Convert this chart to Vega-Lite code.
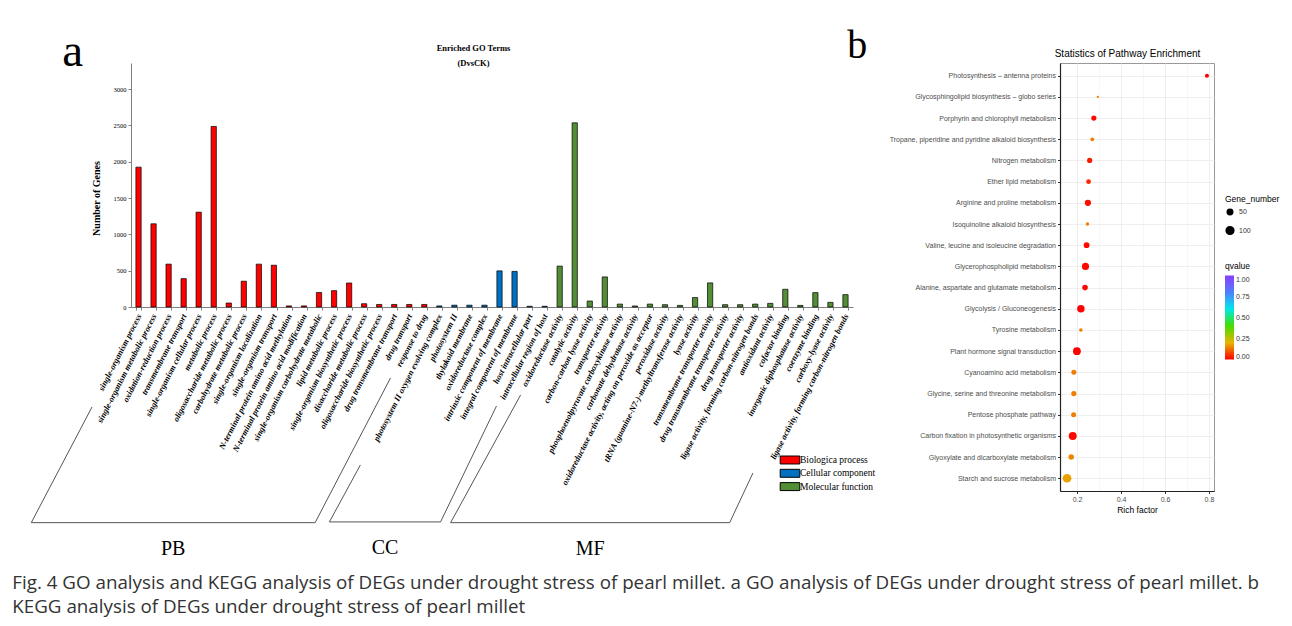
{
  "$schema": "https://vega.github.io/schema/vega-lite/v6.json",
  "padding": {"left": 12, "top": 25, "right": 6, "bottom": 6},
  "background": "white",
  "config": {"view": {"stroke": null}},
  "title": {
    "text": ["Fig. 4 GO analysis and KEGG analysis of DEGs under drought stress of pearl millet. a GO analysis of DEGs under drought stress of pearl millet. b", "KEGG analysis of DEGs under drought stress of pearl millet"],
    "orient": "bottom", "anchor": "start", "frame": "bounds",
    "font": "Open Sans", "fontSize": 18.8, "fontWeight": "normal", "color": "#333333",
    "lineHeight": 24, "offset": 15, "dx": -17
  },
  "datasets": {
    "go": [
      {"term": "single-organism process", "ontology": "Biologica process", "genes": 1925},
      {"term": "single-organism metabolic process", "ontology": "Biologica process", "genes": 1145},
      {"term": "oxidation-reduction process", "ontology": "Biologica process", "genes": 590},
      {"term": "transmembrane transport", "ontology": "Biologica process", "genes": 390},
      {"term": "single-organism cellular process", "ontology": "Biologica process", "genes": 1305},
      {"term": "metabolic process", "ontology": "Biologica process", "genes": 2485},
      {"term": "oligosaccharide metabolic process", "ontology": "Biologica process", "genes": 55},
      {"term": "carbohydrate metabolic process", "ontology": "Biologica process", "genes": 355},
      {"term": "single-organism localization", "ontology": "Biologica process", "genes": 590},
      {"term": "single-organism transport", "ontology": "Biologica process", "genes": 575},
      {"term": "N-terminal protein amino acid methylation", "ontology": "Biologica process", "genes": 15},
      {"term": "N-terminal protein amino acid modification", "ontology": "Biologica process", "genes": 15},
      {"term": "single-organism carbohydrate metabolic", "ontology": "Biologica process", "genes": 200},
      {"term": "lipid metabolic process", "ontology": "Biologica process", "genes": 225},
      {"term": "single-organism biosynthetic process", "ontology": "Biologica process", "genes": 330},
      {"term": "disaccharide metabolic process", "ontology": "Biologica process", "genes": 45},
      {"term": "oligosaccharide biosynthetic process", "ontology": "Biologica process", "genes": 35},
      {"term": "drug transmembrane transport", "ontology": "Biologica process", "genes": 35},
      {"term": "drug transport", "ontology": "Biologica process", "genes": 35},
      {"term": "response to drug", "ontology": "Biologica process", "genes": 35},
      {"term": "photosystem II oxygen evolving complex", "ontology": "Cellular component", "genes": 15},
      {"term": "photosystem II", "ontology": "Cellular component", "genes": 25},
      {"term": "thylakoid membrane", "ontology": "Cellular component", "genes": 25},
      {"term": "oxidoreductase complex", "ontology": "Cellular component", "genes": 25},
      {"term": "intrinsic component of membrane", "ontology": "Cellular component", "genes": 497},
      {"term": "integral component of membrane", "ontology": "Cellular component", "genes": 490},
      {"term": "host intracellular part", "ontology": "Cellular component", "genes": 10},
      {"term": "intracellular region of host", "ontology": "Cellular component", "genes": 10},
      {"term": "oxidoreductase activity", "ontology": "Molecular function", "genes": 563},
      {"term": "catalytic activity", "ontology": "Molecular function", "genes": 2535},
      {"term": "carbon-carbon lyase activity", "ontology": "Molecular function", "genes": 82},
      {"term": "transporter activity", "ontology": "Molecular function", "genes": 414},
      {"term": "phosphoenolpyruvate carboxykinase activity", "ontology": "Molecular function", "genes": 40},
      {"term": "carbonate dehydratase activity", "ontology": "Molecular function", "genes": 14},
      {"term": "oxidoreductase activity, acting on peroxide as acceptor", "ontology": "Molecular function", "genes": 40},
      {"term": "peroxidase activity", "ontology": "Molecular function", "genes": 32},
      {"term": "tRNA (guanine-N7-)-methyltransferase activity", "ontology": "Molecular function", "genes": 22},
      {"term": "lyase activity", "ontology": "Molecular function", "genes": 130},
      {"term": "transmembrane transporter activity", "ontology": "Molecular function", "genes": 332},
      {"term": "drug transmembrane transporter activity", "ontology": "Molecular function", "genes": 32},
      {"term": "drug transporter activity", "ontology": "Molecular function", "genes": 32},
      {"term": "ligase activity, forming carbon-nitrogen bonds", "ontology": "Molecular function", "genes": 40},
      {"term": "antioxidant activity", "ontology": "Molecular function", "genes": 50},
      {"term": "cofactor binding", "ontology": "Molecular function", "genes": 244},
      {"term": "inorganic diphosphatase activity", "ontology": "Molecular function", "genes": 22},
      {"term": "coenzyme binding", "ontology": "Molecular function", "genes": 198},
      {"term": "carboxy-lyase activity", "ontology": "Molecular function", "genes": 64},
      {"term": "ligase activity, forming carbon-nitrogen bonds ", "ontology": "Molecular function", "genes": 170}
    ],
    "brackets": [
      {"group": "PB", "step": 1, "edge": "side", "bx": -3.09, "by": -1376},
      {"group": "PB", "step": 2, "edge": "bottom", "bx": -7.13, "by": -2968},
      {"group": "PB", "step": 3, "edge": "bottom", "bx": 11.74, "by": -2968},
      {"group": "PB", "step": 4, "edge": "side", "bx": 16.75, "by": -977},
      {"group": "CC", "step": 1, "edge": "side", "bx": 14.75, "by": -2174},
      {"group": "CC", "step": 2, "edge": "bottom", "bx": 12.69, "by": -2958},
      {"group": "CC", "step": 3, "edge": "bottom", "bx": 20.08, "by": -2958},
      {"group": "CC", "step": 4, "edge": "side", "bx": 23.8, "by": -1362},
      {"group": "MF", "step": 1, "edge": "side", "bx": 25.4, "by": -1211},
      {"group": "MF", "step": 2, "edge": "bottom", "bx": 20.75, "by": -2968},
      {"group": "MF", "step": 3, "edge": "bottom", "bx": 39.3, "by": -2968},
      {"group": "MF", "step": 4, "edge": "side", "bx": 40.85, "by": -2284}
    ],
    "kegg": [
      {"pathway": "Photosynthesis – antenna proteins", "rich": 0.791, "genes": 28, "q": 0.0},
      {"pathway": "Glycosphingolipid biosynthesis – globo series", "rich": 0.294, "genes": 8, "q": 0.14},
      {"pathway": "Porphyrin and chlorophyll metabolism", "rich": 0.276, "genes": 45, "q": 0.01},
      {"pathway": "Tropane, piperidine and pyridine alkaloid biosynthesis", "rich": 0.269, "genes": 24, "q": 0.14},
      {"pathway": "Nitrogen metabolism", "rich": 0.257, "genes": 45, "q": 0.03},
      {"pathway": "Ether lipid metabolism", "rich": 0.252, "genes": 38, "q": 0.045},
      {"pathway": "Arginine and proline metabolism", "rich": 0.249, "genes": 65, "q": 0.015},
      {"pathway": "Isoquinoline alkaloid biosynthesis", "rich": 0.247, "genes": 20, "q": 0.14},
      {"pathway": "Valine, leucine and isoleucine degradation", "rich": 0.243, "genes": 55, "q": 0.01},
      {"pathway": "Glycerophospholipid metabolism", "rich": 0.238, "genes": 85, "q": 0.01},
      {"pathway": "Alanine, aspartate and glutamate metabolism", "rich": 0.236, "genes": 52, "q": 0.01},
      {"pathway": "Glycolysis / Gluconeogenesis", "rich": 0.217, "genes": 92, "q": 0.0},
      {"pathway": "Tyrosine metabolism", "rich": 0.217, "genes": 20, "q": 0.14},
      {"pathway": "Plant hormone signal transduction", "rich": 0.199, "genes": 102, "q": 0.0},
      {"pathway": "Cyanoamino acid metabolism", "rich": 0.185, "genes": 42, "q": 0.14},
      {"pathway": "Glycine, serine and threonine metabolism", "rich": 0.185, "genes": 45, "q": 0.14},
      {"pathway": "Pentose phosphate pathway", "rich": 0.184, "genes": 42, "q": 0.14},
      {"pathway": "Carbon fixation in photosynthetic organisms", "rich": 0.18, "genes": 105, "q": 0.01},
      {"pathway": "Glyoxylate and dicarboxylate metabolism", "rich": 0.173, "genes": 50, "q": 0.15},
      {"pathway": "Starch and sucrose metabolism", "rich": 0.154, "genes": 125, "q": 0.18}
    ]
  },
  "spacing": -30,
  "center": false,
  "resolve": {"scale": {"color": "independent", "fill": "independent", "size": "independent", "x": "independent", "y": "independent"}, "legend": {"color": "independent", "fill": "independent", "size": "independent"}},
  "hconcat": [
    {
      "title": {"text": "a", "anchor": "start", "frame": "bounds", "font": "Liberation Serif", "fontSize": 47, "fontWeight": "normal", "color": "black", "dx": 33, "offset": -33},
      "width": 722,
      "height": 244,
      "resolve": {"scale": {"x": "independent"}},
      "layer": [
        {
          "data": {"name": "go"},
          "mark": {"type": "bar", "stroke": "black", "strokeWidth": 0.7},
          "encoding": {
            "x": {"field": "term", "type": "nominal", "sort": null,
              "scale": {"type": "band", "paddingInner": 0.65, "paddingOuter": 0.325},
              "axis": {"title": null, "labelAngle": -63, "labelFont": "Liberation Serif", "labelFontSize": 8.5, "labelFontStyle": "italic", "labelFontWeight": "bold", "labelColor": "black", "labelPadding": 4, "labelLimit": 400, "labelOverlap": false, "tickBand": "extent", "tickSize": 3, "tickColor": "#808080", "domainColor": "#808080"}},
            "y": {"field": "genes", "type": "quantitative", "title": "Number of Genes", "scale": {"domain": [0, 3358], "nice": false},
              "axis": {"title": "Number of Genes", "titleFont": "Liberation Serif", "titleFontSize": 10, "titleFontWeight": "bold", "titleColor": "black", "titlePadding": 12, "titleY": 135, "values": [0, 500, 1000, 1500, 2000, 2500, 3000], "format": "d", "labelFont": "Liberation Serif", "labelFontSize": 6.5, "labelColor": "black", "tickSize": 3, "tickColor": "#808080", "domainColor": "#808080", "grid": false}},
            "fill": {"field": "ontology", "type": "nominal",
              "scale": {"domain": ["Biologica process", "Cellular component", "Molecular function"], "range": ["#ff0000", "#0070c0", "#538d35"]},
              "legend": {"title": null, "orient": "none", "legendX": 652, "legendY": 390, "symbolType": "M-1.6,-0.65H1.6V0.65H-1.6Z", "symbolSize": 150, "symbolStrokeColor": "black", "symbolStrokeWidth": 1, "labelFont": "Liberation Serif", "labelFontSize": 9.5, "labelColor": "black", "rowPadding": 0.3, "labelOffset": 3}}
          }
        },
        {
          "data": {"name": "brackets"},
          "mark": {"type": "line", "stroke": "#555555", "strokeWidth": 1},
          "encoding": {
            "x": {"field": "bx", "type": "quantitative", "scale": {"domain": [-0.5, 47.5], "nice": false, "zero": false}, "axis": null},
            "y": {"field": "by", "type": "quantitative", "title": "Number of Genes", "scale": {"domain": [0, 3358], "nice": false},
              "axis": {"title": "Number of Genes", "titleFont": "Liberation Serif", "titleFontSize": 10, "titleFontWeight": "bold", "titleColor": "black", "titlePadding": 12, "titleY": 135, "values": [0, 500, 1000, 1500, 2000, 2500, 3000], "format": "d", "labelFont": "Liberation Serif", "labelFontSize": 6.5, "labelColor": "black", "tickSize": 3, "tickColor": "#808080", "domainColor": "#808080", "grid": false}},
            "detail": {"field": "group"},
            "order": {"field": "step"}
          }
        },
        {
          "data": {"name": "brackets"},
          "transform": [
            {"filter": "datum.edge == 'bottom'"},
            {"aggregate": [{"op": "mean", "field": "bx", "as": "cx"}, {"op": "min", "field": "by", "as": "cy"}], "groupby": ["group"]}
          ],
          "mark": {"type": "text", "font": "Liberation Serif", "fontSize": 20, "dy": 26, "baseline": "middle", "color": "black"},
          "encoding": {
            "x": {"field": "cx", "type": "quantitative", "scale": {"domain": [-0.5, 47.5], "nice": false, "zero": false},
              "axis": {"orient": "top", "labels": false, "ticks": false, "domain": false, "grid": false, "title": ["Enriched GO Terms", "(DvsCK)"], "titleFont": "Liberation Serif", "titleFontSize": 8.5, "titleFontWeight": "bold", "titleColor": "black", "titleLineHeight": 15, "titleX": 342, "titleAnchor": "middle", "titlePadding": -4}},
            "y": {"field": "cy", "type": "quantitative", "title": "Number of Genes", "scale": {"domain": [0, 3358], "nice": false},
              "axis": {"title": "Number of Genes", "titleFont": "Liberation Serif", "titleFontSize": 10, "titleFontWeight": "bold", "titleColor": "black", "titlePadding": 12, "titleY": 135, "values": [0, 500, 1000, 1500, 2000, 2500, 3000], "format": "d", "labelFont": "Liberation Serif", "labelFontSize": 6.5, "labelColor": "black", "tickSize": 3, "tickColor": "#808080", "domainColor": "#808080", "grid": false}},
            "text": {"field": "group"}
          }
        }
      ]
    },
    {
      "title": {"text": "b", "anchor": "start", "frame": "bounds", "font": "Liberation Serif", "fontSize": 40, "fontWeight": "normal", "color": "black", "dx": -42, "offset": -18},
      "width": 154,
      "height": 428,
      "view": {"stroke": "#999999", "strokeWidth": 1},
      "data": {"name": "kegg"},
      "resolve": {"axis": {"x": "independent"}},
      "layer": [
        {
          "mark": {"type": "circle", "opacity": 1},
          "encoding": {
            "y": {"field": "pathway", "type": "nominal", "sort": null,
              "scale": {"type": "point", "padding": 0.6},
              "axis": {"title": null, "labelFont": "Liberation Sans", "labelFontSize": 7, "labelColor": "#4d4d4d", "labelLimit": 400, "labelPadding": 2, "tickSize": 2.5, "tickColor": "#333333", "domainColor": "#222222", "domainWidth": 1.2, "grid": true, "gridColor": "#ebebeb", "gridWidth": 0.8}},
            "x": {"field": "rich", "type": "quantitative",
              "scale": {"domain": [0.122, 0.823], "nice": false, "zero": false},
              "axis": {"title": "Rich factor", "titleFont": "Liberation Sans", "titleFontSize": 8.5, "titleFontWeight": "normal", "titleColor": "black", "titlePadding": 3,
                "values": [0.2, 0.3, 0.4, 0.5, 0.6, 0.7, 0.8],
                "labelExpr": "round(datum.value*10) % 2 == 0 ? format(datum.value, '.1f') : ''",
                "tickOpacity": {"condition": {"test": "round(datum.value*10) % 2 == 0", "value": 1}, "value": 0},
                "gridWidth": {"condition": {"test": "round(datum.value*10) % 2 == 0", "value": 0.8}, "value": 0.4},
                "labelFont": "Liberation Sans", "labelFontSize": 7, "labelColor": "#4d4d4d", "tickSize": 2.5, "tickColor": "#333333", "domainColor": "#222222", "domainWidth": 1.2, "grid": true, "gridColor": "#ebebeb"}},
            "size": {"field": "genes", "type": "quantitative",
              "scale": {"domain": [0, 130], "range": [0, 78]},
              "legend": {"title": "Gene_number", "values": [50, 100], "orient": "none", "legendX": 165, "legendY": 132, "titleFont": "Liberation Sans", "titleFontSize": 8.5, "titleFontWeight": "normal", "titleColor": "black", "labelFont": "Liberation Sans", "labelFontSize": 7, "labelColor": "#333333", "symbolFillColor": "black", "symbolStrokeColor": "black", "symbolOpacity": 1, "rowPadding": 5}},
            "color": {"field": "q", "type": "quantitative",
              "scale": {"domain": [0, 0.2, 0.4, 0.6, 0.8, 1], "range": ["#ff0000", "#e8b400", "#44dd00", "#00e8e8", "#4f7fff", "#8a3dff"], "interpolate": "rgb"},
              "legend": {"title": "qvalue", "orient": "none", "legendX": 165, "legendY": 199, "values": [0, 0.25, 0.5, 0.75, 1], "format": ".2f", "gradientLength": 84, "gradientThickness": 9, "gradientStrokeWidth": 0, "titleFont": "Liberation Sans", "titleFontSize": 8.5, "titleFontWeight": "normal", "titleColor": "black", "labelFont": "Liberation Sans", "labelFontSize": 7, "labelColor": "#333333"}}
          }
        },
        {
          "mark": {"type": "circle", "opacity": 0},
          "encoding": {
            "x": {"field": "rich", "type": "quantitative",
              "scale": {"domain": [0.122, 0.823], "nice": false, "zero": false},
              "axis": {"orient": "top", "labels": false, "ticks": false, "domain": false, "grid": false, "title": "Statistics of Pathway Enrichment", "titleFont": "Liberation Sans", "titleFontSize": 10, "titleFontWeight": "normal", "titleColor": "black", "titleX": 67, "titleAnchor": "middle", "titlePadding": 5}}
          }
        }
      ]
    }
  ]
}
